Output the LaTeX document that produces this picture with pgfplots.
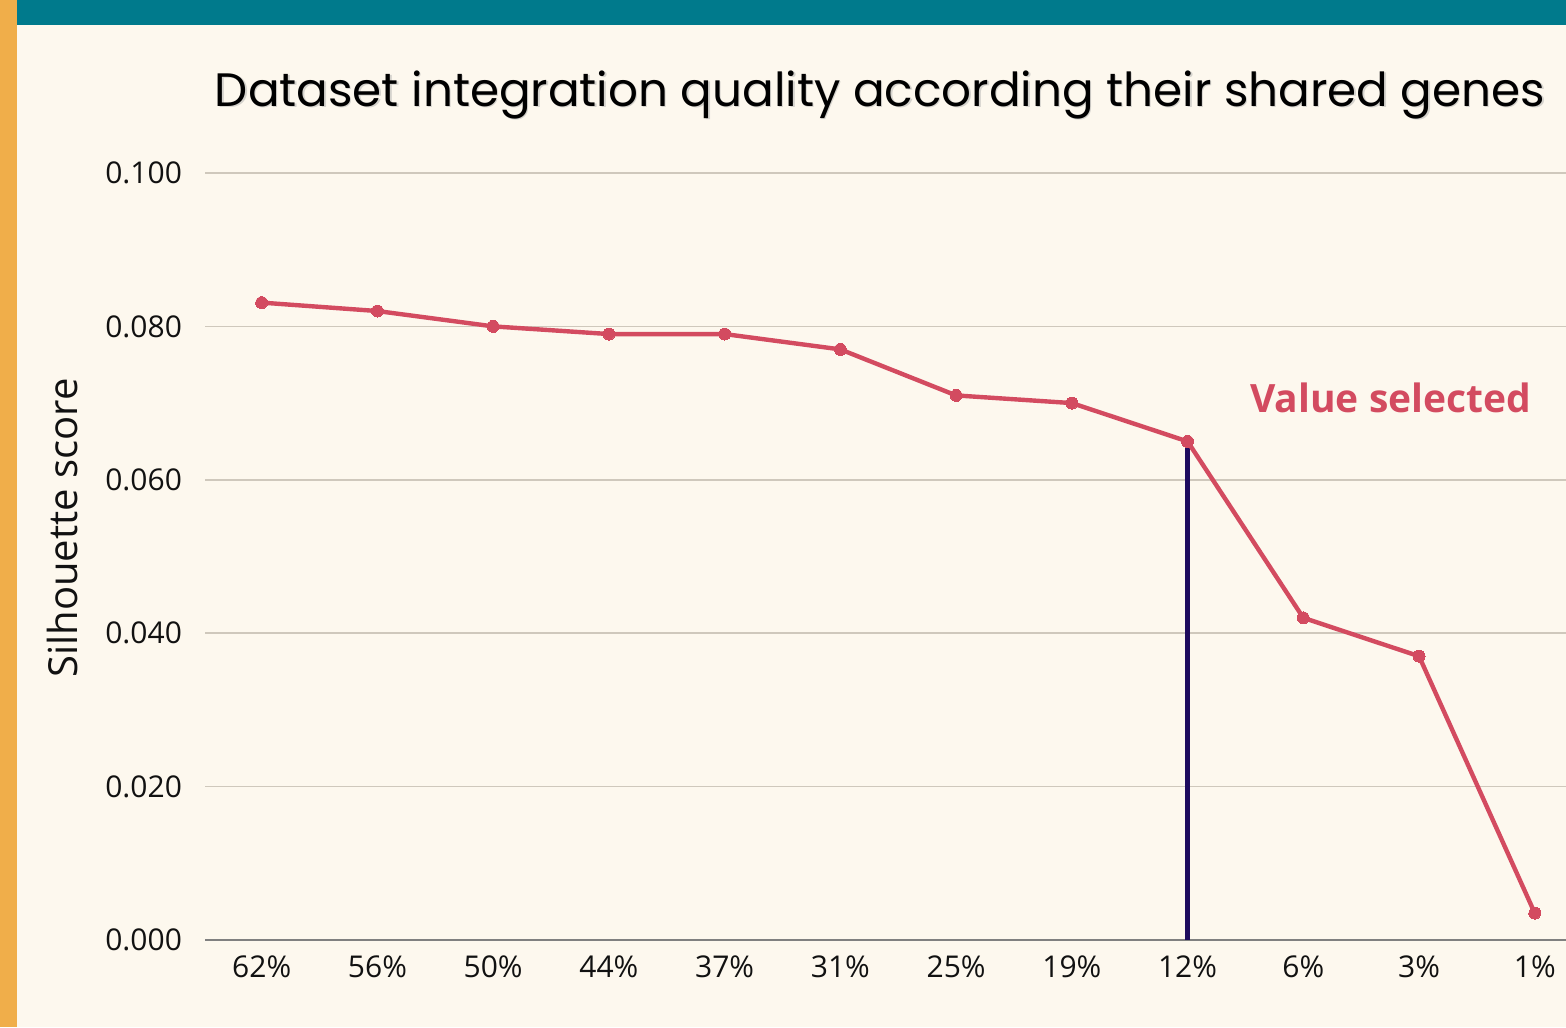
\documentclass[border=0pt]{standalone}
\usepackage{fontspec}
\setmainfont{Open Sans}
\newfontfamily\titlefont{Poppins}
\usepackage{graphicx}
\usepackage{pgfplots}
\pgfplotsset{compat=1.18}
\definecolor{bg}{HTML}{FDF8EE}
\definecolor{teal}{HTML}{007A8C}
\definecolor{orangestrip}{HTML}{F0AE4A}
\definecolor{linered}{HTML}{D34B60}
\definecolor{navy}{HTML}{1E0B5E}
\definecolor{gridc}{HTML}{CFC8BC}
\definecolor{txt}{HTML}{111111}
\begin{document}
\begin{tikzpicture}
\fill[bg] (0,0) rectangle (783pt,513.5pt);
\useasboundingbox (0,0) rectangle (783pt,513.5pt);
\fill[orangestrip] (0,0) rectangle (8.5pt,513.5pt);
\fill[teal] (8.5pt,501pt) rectangle (783pt,513.5pt);
% title with soft shadow
\node[text=black!35, opacity=0.45] at (440.7pt,465.3pt) {\resizebox{665pt}{!}{\titlefont Dataset integration quality according their shared genes}};
\node[text=black] at (440pt,466pt) {\resizebox{665pt}{!}{\titlefont Dataset integration quality according their shared genes}};
\begin{axis}[
  at={(102.5pt,43.5pt)}, anchor=south west,
  scale only axis, width=680.5pt, height=383.5pt,
  xmin=-0.49, xmax=11.27, ymin=0, ymax=0.1,
  axis x line*=bottom, axis y line*=left,
  x axis line style={draw=black!50, line width=0.8pt, -},
  y axis line style={draw=none},
  xtick={0,...,11},
  xticklabels={62\%,56\%,50\%,44\%,37\%,31\%,25\%,19\%,12\%,6\%,3\%,1\%},
  ytick={0,0.02,0.04,0.06,0.08,0.1},
  yticklabel={\pgfmathprintnumber[fixed,precision=3,zerofill]{\tick}},
  /pgf/number format/assume math mode=true,
  ymajorgrids, grid style={gridc, line width=0.8pt},
  major tick length=0pt,
  tick label style={font=\fontsize{15}{17}\selectfont, text=txt},
  xticklabel style={yshift=-4.5pt},
  yticklabel style={xshift=-8pt},
  ylabel={Silhouette score},
  ylabel style={font=\fontsize{20}{22}\selectfont, text=txt, at={(axis description cs:-0.105,0.537)}, anchor=center, rotate=0},
  clip=false,
]
\addplot[navy, line width=2.5pt] coordinates {(8,0) (8,0.065)};
\addplot[linered, line width=2.2pt, mark=*, mark size=3pt, mark options={fill=linered, draw=linered, line width=0pt}] coordinates {
(0,0.0831) (1,0.0820) (2,0.0800) (3,0.0790) (4,0.0790) (5,0.0770)
(6,0.0710) (7,0.0700) (8,0.0650) (9,0.0420) (10,0.0370) (11,0.0035)};
\node[anchor=east, text=linered, font=\bfseries\fontsize{19.5}{22}\selectfont] at (axis cs:11.03,0.0707) {Value selected};
\end{axis}
\end{tikzpicture}
\end{document}
